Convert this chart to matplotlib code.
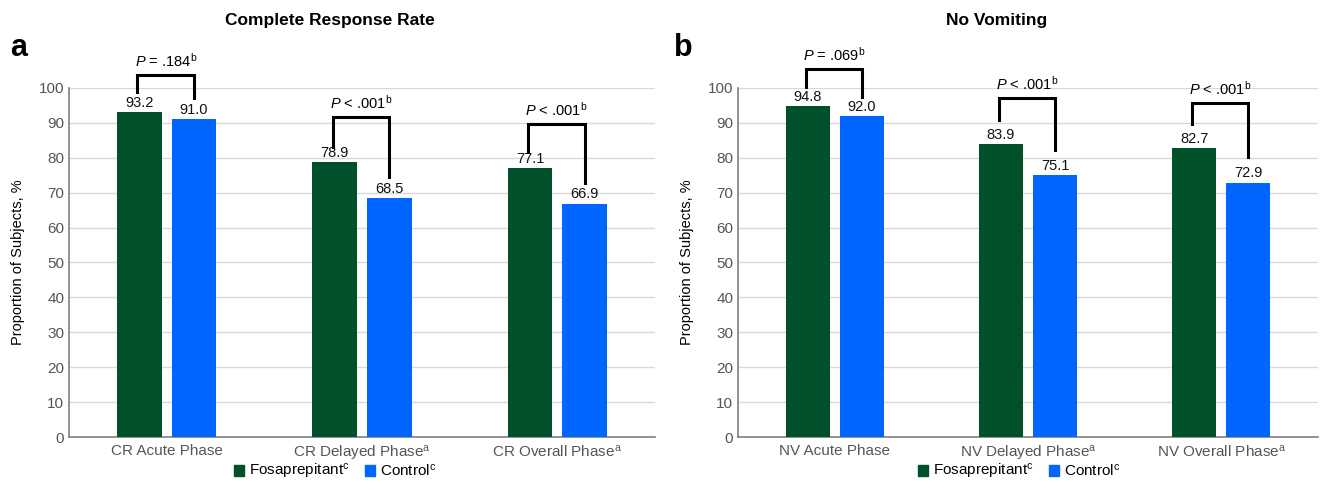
import matplotlib
matplotlib.use("Agg")
from matplotlib import pyplot as plt
from matplotlib.patches import Patch
import numpy as np

plt.rcParams['font.family'] = ['Liberation Sans', 'DejaVu Sans']
plt.rcParams['mathtext.fontset'] = 'custom'
plt.rcParams['mathtext.rm'] = 'Liberation Sans'
plt.rcParams['mathtext.it'] = 'Liberation Sans:italic'
plt.rcParams['mathtext.bf'] = 'Liberation Sans:bold'

# data
cr_categories = ['CR Acute Phase', 'CR Delayed Phase$^{\\mathrm{a}}$', 'CR Overall Phase$^{\\mathrm{a}}$']
cr_fosa = [93.2, 78.9, 77.1]
cr_control = [91.0, 68.5, 66.9]
cr_pvalues = ['$P$ = .184$^{\\mathrm{b}}$', '$P$ < .001$^{\\mathrm{b}}$', '$P$ < .001$^{\\mathrm{b}}$']

nv_categories = ['NV Acute Phase', 'NV Delayed Phase$^{\\mathrm{a}}$', 'NV Overall Phase$^{\\mathrm{a}}$']
nv_fosa = [94.8, 83.9, 82.7]
nv_control = [92.0, 75.1, 72.9]
nv_pvalues = ['$P$ = .069$^{\\mathrm{b}}$', '$P$ < .001$^{\\mathrm{b}}$', '$P$ < .001$^{\\mathrm{b}}$']

# bracket heights (top, left leg bottom, right leg bottom)
cr_brackets = [(103.7, 98.8, 97.1), (91.7, 83.1, 74.5), (89.7, 81.7, 72.8)]
nv_brackets = [(105.4, 100.3, 97.4), (97.1, 90.8, 82.2), (95.7, 89.7, 80.2)]

green = '#00502a'
blue = '#0066ff'
grey_text = '#555555'

fig = plt.figure(figsize=(13.25, 4.88), dpi=100)
ax1 = fig.add_axes([0.0521, 0.1045, 0.4423, 0.7152])
ax2 = fig.add_axes([0.557, 0.1045, 0.4377, 0.7152])


def draw_panel(ax, cats, fosa, control, pvals, brackets, title, title_x, legend_x):
    x = np.arange(len(cats))
    off = 0.14
    w = 0.228
    b1 = ax.bar(x - off, fosa, w, color=green, zorder=3)
    b2 = ax.bar(x + off, control, w, color=blue, zorder=3)
    for bars, vals in ((b1, fosa), (b2, control)):
        for rect, v in zip(bars, vals):
            ax.annotate(f'{v:.1f}', (rect.get_x() + rect.get_width() / 2, v),
                        xytext=(0, 1.5), textcoords='offset points',
                        ha='center', va='bottom', fontsize=10.5, color='#111111')
    for i, (top, lb, rb) in enumerate(brackets):
        xl = x[i] - off - 0.01
        xr = x[i] + off
        ax.plot([xl, xl, xr, xr], [lb, top, top, rb], color='black', lw=2.2,
                clip_on=False, zorder=4, solid_joinstyle='miter')
        ax.text((xl + xr) / 2, top + 1.6, pvals[i], ha='center', va='bottom',
                fontsize=10.5, clip_on=False)
    ax.set_xlim(-0.5, len(cats) - 0.5)
    ax.set_ylim(0, 100)
    ax.set_yticks(range(0, 101, 10))
    ax.set_xticks(x)
    ax.set_xticklabels(cats)
    ax.tick_params(axis='both', length=0, labelsize=11, labelcolor=grey_text)
    ax.tick_params(axis='x', pad=5)
    ax.grid(axis='y', color='#d9d9d9', lw=1, zorder=0)
    for s in ['top', 'right']:
        ax.spines[s].set_visible(False)
    for s in ['left', 'bottom']:
        ax.spines[s].set_color('#808080')
        ax.spines[s].set_linewidth(1.2)
    ax.set_ylabel('Proportion of Subjects, %', fontsize=10.5, labelpad=10)
    fig.text(title_x, 0.959, title, fontsize=12.5, fontweight='bold',
             ha='center', va='center')
    handles = [Patch(color=green, label='Fosaprepitant$^{\\mathrm{c}}$'),
               Patch(color=blue, label='Control$^{\\mathrm{c}}$')]
    fig.legend(handles=handles, loc='center', bbox_to_anchor=(legend_x, 0.034),
               ncol=2, frameon=False, fontsize=11, handlelength=0.7,
               handleheight=0.7, handletextpad=0.3, columnspacing=1.0,
               borderpad=0)


draw_panel(ax1, cr_categories, cr_fosa, cr_control, cr_pvalues, cr_brackets,
           'Complete Response Rate', 330 / 1325, 335 / 1325)
draw_panel(ax2, nv_categories, nv_fosa, nv_control, nv_pvalues, nv_brackets,
           'No Vomiting', 997 / 1325, 1019 / 1325)

fig.text(0.008, 0.885, 'a', fontsize=22, fontweight='bold')
fig.text(0.509, 0.885, 'b', fontsize=22, fontweight='bold')

fig.savefig('out.png', dpi=100)
